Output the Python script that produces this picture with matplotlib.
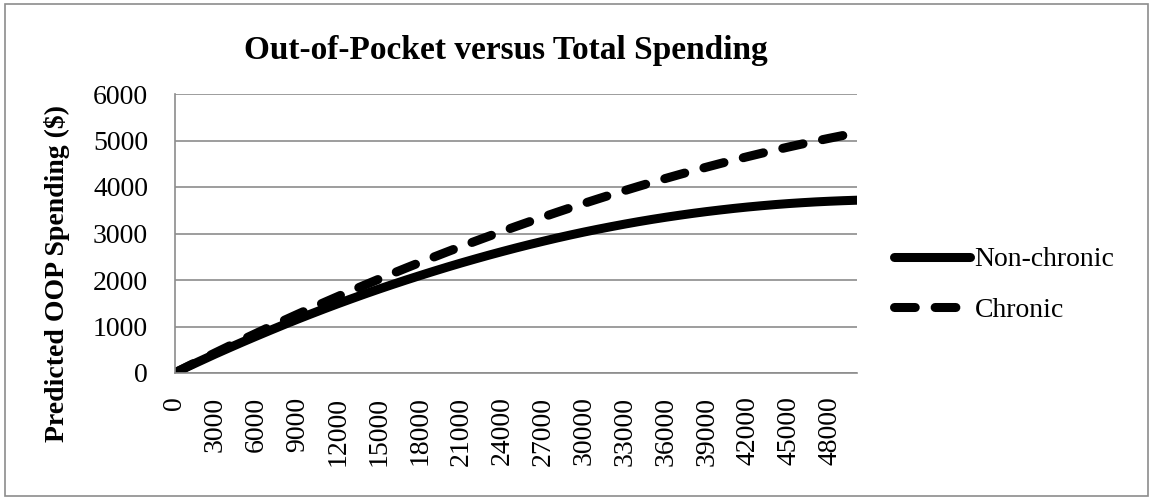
import numpy as np
import matplotlib.pyplot as plt
from matplotlib.patches import Rectangle

# total spending categories ($), one point every 1000
total_spending = list(range(0, 51000, 1000))

# predicted out-of-pocket spending ($)
non_chronic = [0, 140, 275, 410, 540, 668, 793, 916, 1037, 1155,
               1270, 1383, 1493, 1600, 1705, 1807, 1906, 2003, 2097, 2189,
               2279, 2366, 2450, 2532, 2611, 2688, 2762, 2833, 2902, 2968,
               3031, 3091, 3148, 3203, 3255, 3304, 3350, 3393, 3434, 3472,
               3507, 3540, 3570, 3597, 3622, 3644, 3663, 3680, 3694, 3706,
               3716]
chronic = [0, 147, 292, 436, 578, 718, 856, 993, 1128, 1261,
           1392, 1521, 1649, 1775, 1899, 2022, 2143, 2262, 2379, 2494,
           2608, 2720, 2830, 2938, 3045, 3150, 3253, 3354, 3454, 3552,
           3648, 3742, 3835, 3925, 4014, 4101, 4186, 4269, 4350, 4429,
           4506, 4581, 4654, 4725, 4794, 4861, 4926, 4989, 5050, 5109,
           5166]

yticks = [0, 1000, 2000, 3000, 4000, 5000, 6000]

plt.rcParams['font.family'] = ['Liberation Serif', 'DejaVu Serif']

W, H = 1153, 499
fig = plt.figure(figsize=(W / 100, H / 100), dpi=100)

# chart area border
fig.patches.append(Rectangle((5 / W, 3 / H), 1143 / W, 492 / H,
                             transform=fig.transFigure, fill=False,
                             edgecolor='#8c8c8c', linewidth=1.2))

left, right, top, bottom = 174.5, 857, 94, 373
ax = fig.add_axes([left / W, 1 - bottom / H, (right - left) / W, (bottom - top) / H])

x = np.arange(len(total_spending))
lw = 6.5
ax.plot(x, non_chronic, color='black', lw=lw, solid_capstyle='round',
        label='Non-chronic')
ax.plot(x, chronic, color='black', lw=lw, dashes=(2.3, 2.2),
        dash_capstyle='round', label='Chronic')

ax.set_xlim(0, len(total_spending) - 1)
ax.set_ylim(0, 6000)
ax.set_yticks(yticks)
ax.set_yticklabels([str(v) for v in yticks], fontsize=20)
ax.set_xticks(x[::3])
ax.set_xticklabels([str(v) for v in total_spending[::3]], rotation=90,
                   fontsize=20)
ax.tick_params(axis='both', length=0)
ax.tick_params(axis='y', pad=19)
ax.tick_params(axis='x', pad=17)

ax.grid(axis='y', color='#8c8c8c', lw=1.2)
ax.set_axisbelow(True)
for side in ['top', 'right']:
    ax.spines[side].set_visible(False)
for side in ['left', 'bottom']:
    ax.spines[side].set_color('#8c8c8c')
    ax.spines[side].set_linewidth(1.2)

fig.text(506 / W, 1 - 51 / H, 'Out-of-Pocket versus Total Spending',
         fontsize=24, fontweight='bold', ha='center', va='center')
fig.text(57 / W, 1 - 273 / H, 'Predicted OOP Spending ($)', fontsize=20,
         fontweight='bold', rotation=90, ha='center', va='center')

fig.legend(loc='center left', bbox_to_anchor=(894 / W, 1 - 285 / H),
           frameon=False, fontsize=20, handlelength=2.75, handletextpad=0.15,
           labelspacing=0.9, borderpad=0, borderaxespad=0)

fig.savefig('out.png', dpi=100)
